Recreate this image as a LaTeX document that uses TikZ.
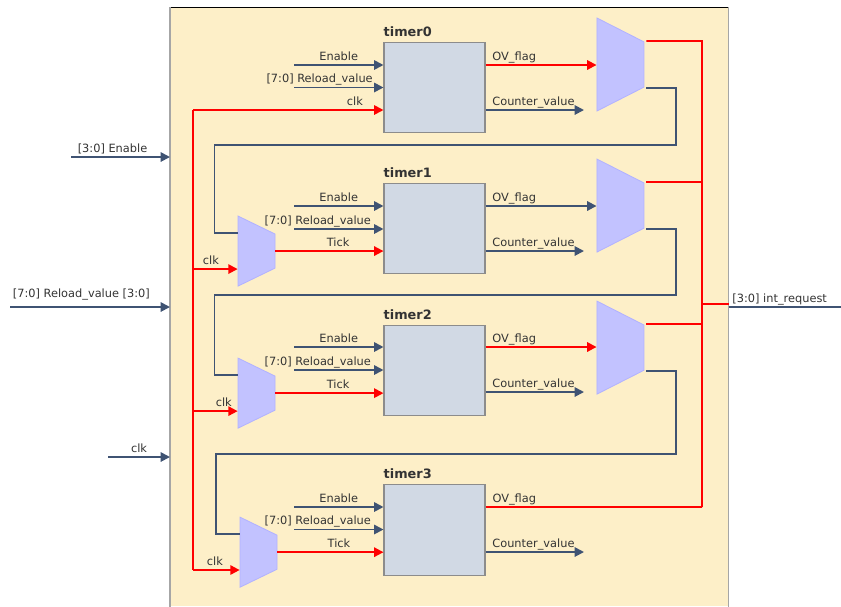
\documentclass[tikz,border=0pt]{standalone}
\usepackage{fontspec}
\setmainfont{DejaVu Sans}
\usetikzlibrary{shapes.geometric, arrows.meta, positioning, calc, backgrounds}
\definecolor{wirecol}{HTML}{3F5373}
\definecolor{textcol}{HTML}{333333}
\definecolor{panelfill}{HTML}{FDEFC8}
\definecolor{timerfill}{HTML}{D1D9E4}

\begin{document}
\begin{tikzpicture}[
    x=0.03cm, y=-0.03cm,
    >={Triangle[length=8pt, width=8pt]},
    font=\fontsize{9.7pt}{11pt}\selectfont,
    timer/.style={rectangle, draw=gray!90, fill=timerfill, line width=0.9pt, minimum width=3.03cm, minimum height=2.72cm, inner sep=0pt},
    mux/.style={trapezium, trapezium stretches=true, shape border rotate=270, trapezium angle=64, draw=blue!30!white, fill=blue!24, line width=0.7pt, inner sep=0pt},
    outmux/.style={mux, minimum width=2.79cm, minimum height=1.41cm},
    inmux/.style={mux, minimum width=2.1cm, minimum height=1.11cm},
    wire/.style={draw=wirecol, line width=1.6pt},
    redwire/.style={draw=red, line width=1.6pt},
    sig/.style={text=textcol, inner sep=0pt, text depth=0pt, above=3.4pt},
    timername/.style={font=\fontsize{11pt}{13pt}\selectfont\bfseries, text=black!80, inner sep=0pt, text depth=0pt, anchor=south west, yshift=4pt}
]

% Panel
\useasboundingbox (0,0) rectangle (841,606);
\node[rectangle, fill=panelfill, minimum width=16.74cm, minimum height=17.97cm, inner sep=0pt, anchor=north west] (panel) at (170,7) {};
\draw[black, line width=0.8pt] (panel.north west) -- (panel.north east);
\draw[gray!70, line width=1pt] (panel.north west) -- (panel.south west);
\draw[gray!70, line width=1pt] (panel.north east) -- (panel.south east);

% Timers
\node[timer] (timer0) at (434.5,87.5) {};
\node[timer] (timer1) [below=1.48cm of timer0] {};
\node[timer] (timer2) [below=1.51cm of timer1] {};
\node[timer] (timer3) [below=2.02cm of timer2] {};
\node[timername] (name0) at (timer0.north west) {timer0};
\node[timername] (name1) at (timer1.north west) {timer1};
\node[timername] (name2) at (timer2.north west) {timer2};
\node[timername] (name3) at (timer3.north west) {timer3};

% Muxes
\node[outmux] (ovmux0) [right=3.33cm of timer0, yshift=0.69cm] {\phantom{x}};
\node[outmux] (ovmux1) [right=3.33cm of timer1, yshift=0.69cm] {\phantom{x}};
\node[outmux] (ovmux2) [right=3.33cm of timer2, yshift=0.69cm] {\phantom{x}};
\node[inmux] (tickmux1) [left=3.24cm of timer1, yshift=-0.675cm] {\phantom{x}};
\node[inmux] (tickmux2) [left=3.24cm of timer2, yshift=-0.675cm] {\phantom{x}};
\node[inmux] (tickmux3) [left=3.18cm of timer3, yshift=-0.675cm] {\phantom{x}};

% Free ends
\coordinate (en0) at (294,65);
\coordinate (rl0) at (294,87.5);
\coordinate (en1) at (294,206);
\coordinate (rl1) at (294,229);
\coordinate (en2) at (294,347);
\coordinate (rl2) at (294,370);
\coordinate (en3) at (294,507);
\coordinate (rl3) at (294,529.5);
\coordinate (cnt0) at (584,110);
\coordinate (cnt1) at (584,251);
\coordinate (cnt2) at (584,392);
\coordinate (cnt3) at (584,552);
\coordinate (clkbus) at (193,110);
\coordinate (clkend) at (193,570);
\coordinate (clkin1) at ($(tickmux1.west)+(0,18)$);
\coordinate (clkin2) at ($(tickmux2.west)+(0,18)$);
\coordinate (loopin1) at ($(tickmux1.west)+(0,-18)$);
\coordinate (loopin2) at ($(tickmux2.west)+(0,-18)$);
\coordinate (loopin3) at ($(tickmux3.west)+(0,-18)$);
\coordinate (irqbus) at (702,304);
\coordinate (irqtop) at (702,41);
\coordinate (irqend) at (702,507);
\coordinate (irqout) at (841,307);
\coordinate (irq1) at ($(ovmux1.east)+(2,-23.5)$);
\coordinate (irq2) at ($(ovmux2.east)+(2,-23.5)$);
\coordinate (inen) at (71,157);
\coordinate (inrl) at (10,307);
\coordinate (inclk) at (108,457);

% Top level inputs
\draw[->, wire] (inen) -- node[sig, pos=0.78, anchor=south east] {[3:0] Enable} (inen -| panel.west);
\draw[->, wire] (inrl) -- node[sig, pos=0.88, anchor=south east, yshift=4pt] {[7:0] Reload\_value [3:0]} (inrl -| panel.west);
\draw[->, wire] (inclk) -- node[sig, pos=0.645, anchor=south east] {clk} (inclk -| panel.west);

% timer0
\draw[->, wire] (en0) -- node[sig] {Enable} (en0 -| timer0.west);
\draw[->, wire] (rl0) -- node[sig, pos=0.89, anchor=south east] {[7:0] Reload\_value} (rl0 -| timer0.west);
\draw[->, redwire] (clkbus) -- node[sig, pos=0.85] {clk} (clkbus -| timer0.west);
\draw[->, redwire] (en0 -| timer0.east) -- node[sig, pos=0.054, anchor=south west] {OV\_flag} (en0 -| ovmux0.west);
\draw[->, wire] (cnt0 -| timer0.east) -- node[sig, pos=0.06, anchor=south west] {Counter\_value} (cnt0);

% timer1
\draw[->, wire] (en1) -- node[sig] {Enable} (en1 -| timer1.west);
\draw[->, wire] (rl1) -- node[sig, pos=0.87, anchor=south east] {[7:0] Reload\_value} (rl1 -| timer1.west);
\draw[->, redwire] (tickmux1.east) -- node[sig, pos=0.58] {Tick} (tickmux1.east -| timer1.west);
\draw[->, wire] (en1 -| timer1.east) -- node[sig, pos=0.054, anchor=south west] {OV\_flag} (en1 -| ovmux1.west);
\draw[->, wire] (cnt1 -| timer1.east) -- node[sig, pos=0.06, anchor=south west] {Counter\_value} (cnt1);

% timer2
\draw[->, wire] (en2) -- node[sig] {Enable} (en2 -| timer2.west);
\draw[->, wire] (rl2) -- node[sig, pos=0.87, anchor=south east] {[7:0] Reload\_value} (rl2 -| timer2.west);
\draw[->, redwire] (tickmux2.east) -- node[sig, pos=0.58] {Tick} (tickmux2.east -| timer2.west);
\draw[->, redwire] (en2 -| timer2.east) -- node[sig, pos=0.054, anchor=south west] {OV\_flag} (en2 -| ovmux2.west);
\draw[->, wire] (cnt2 -| timer2.east) -- node[sig, pos=0.06, anchor=south west] {Counter\_value} (cnt2);

% timer3
\draw[->, wire] (en3) -- node[sig] {Enable} (en3 -| timer3.west);
\draw[->, wire] (rl3) -- node[sig, pos=0.87, anchor=south east] {[7:0] Reload\_value} (rl3 -| timer3.west);
\draw[->, redwire] (tickmux3.east) -- node[sig, pos=0.58] {Tick} (tickmux3.east -| timer3.west);
\draw[redwire] (en3 -| timer3.east) -- node[sig, pos=0.028, anchor=south west] {OV\_flag} (irqend);
\draw[->, wire] (cnt3 -| timer3.east) -- node[sig, pos=0.06, anchor=south west] {Counter\_value} (cnt3);

% Clock bus
\draw[redwire] (clkbus) -- (clkend);
\draw[->, redwire] (clkend) -- node[sig, pos=0.47] {clk} (clkend -| tickmux3.west);
\draw[->, redwire] (clkin1 -| clkbus) -- node[sig, pos=0.4] {clk} (clkin1);
\draw[->, redwire] (clkin2 -| clkbus) -- node[sig, pos=0.69] {clk} (clkin2);

% Tick loops
\draw[wire] ($(ovmux0.east)+(2,23.5)$) -| (676,145) -- (214.5,145) |- (loopin1);
\draw[wire] ($(ovmux1.east)+(2,23.5)$) -| (676,295) -- (214.5,295) |- (loopin2);
\draw[wire] ($(ovmux2.east)+(2,23.5)$) -| (676,454) -- (216,454) |- (loopin3);

% Interrupt bus
\draw[redwire] (irqend) -- (irqtop) -- ($(ovmux0.east)+(2,-23.5)$);
\draw[redwire] (irq1) -- (irq1 -| irqbus);
\draw[redwire] (irq2) -- (irq2 -| irqbus);
\draw[redwire] (irqbus) -- (irqbus -| panel.east);
\draw[wire] (irqout -| panel.east) -- node[sig, pos=0.027, anchor=south west] {[3:0] int\_request} (irqout);

\end{tikzpicture}
\end{document}
